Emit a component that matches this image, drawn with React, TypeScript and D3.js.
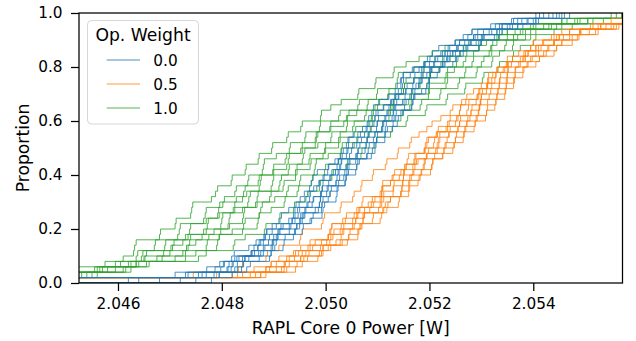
import React, { useRef, useEffect } from 'react';
import * as d3 from 'd3';

// power samples per run, stored as mW above BASE_W
const BASE_W = 2.04;

const weights = ['0.0', '0.5', '1.0'];
const colors = ['#1f77b4', '#ff7f0e', '#2ca02c'];

const runsW00 = [
  [4.9, 7.1, 7.87, 7.96, 8.19, 8.24, 8.52, 8.66, 8.81, 8.97, 8.97, 9.12, 9.15, 9.29, 9.43, 9.60, 9.69, 9.73, 9.68, 9.76, 9.84, 10.05, 10.18, 10.32, 10.43, 10.34, 10.40, 10.53, 10.71, 10.82, 10.89, 10.83, 10.92, 11.04, 11.22, 11.34, 11.49, 11.38, 11.44, 11.67, 11.92, 11.96, 12.06, 12.18, 12.50, 12.74, 12.82, 13.18, 13.58, 14.05],
  [6.4, 7.35, 7.71, 8.03, 8.29, 8.56, 8.69, 8.83, 8.75, 8.86, 9.05, 9.29, 9.46, 9.51, 9.41, 9.49, 9.59, 9.77, 9.87, 10.06, 9.97, 10.04, 10.24, 10.44, 10.40, 10.43, 10.45, 10.67, 10.80, 10.80, 10.95, 10.97, 11.11, 11.27, 11.35, 11.50, 11.40, 11.45, 11.46, 11.70, 11.89, 12.16, 12.25, 12.39, 12.49, 12.65, 12.82, 13.27, 13.62, 14.20],
  [5.1, 7.55, 7.98, 8.05, 8.33, 8.58, 8.62, 8.80, 8.84, 8.87, 9.14, 9.35, 9.38, 9.41, 9.69, 9.71, 9.66, 9.88, 9.83, 9.95, 10.19, 10.22, 10.25, 10.29, 10.41, 10.60, 10.62, 10.78, 10.75, 10.93, 10.95, 11.01, 11.12, 11.31, 11.33, 11.46, 11.48, 11.50, 11.63, 11.85, 11.90, 12.01, 12.22, 12.36, 12.58, 12.88, 12.93, 13.35, 13.70, 14.12],
  [7.2, 7.62, 8.10, 8.14, 8.40, 8.63, 8.70, 8.72, 9.08, 9.12, 9.18, 9.41, 9.47, 9.50, 9.76, 9.64, 9.90, 9.93, 9.95, 10.10, 10.12, 10.31, 10.29, 10.46, 10.50, 10.52, 10.80, 10.84, 10.86, 11.00, 11.02, 11.20, 11.22, 11.25, 11.41, 11.55, 11.57, 11.70, 11.72, 11.80, 12.10, 12.12, 12.30, 12.55, 12.68, 12.93, 13.04, 13.40, 13.78, 14.30],
  [6.8, 7.30, 8.12, 8.20, 8.44, 8.58, 8.83, 8.90, 8.92, 9.10, 9.33, 9.36, 9.52, 9.74, 9.62, 9.77, 9.92, 9.94, 10.08, 10.06, 10.27, 10.26, 10.30, 10.58, 10.62, 10.66, 10.69, 10.95, 10.98, 10.99, 11.16, 11.18, 11.35, 11.37, 11.40, 11.66, 11.68, 11.70, 11.86, 11.88, 12.00, 12.33, 12.35, 12.52, 12.80, 12.85, 13.20, 13.40, 13.90, 14.45],
  [4.7, 7.7, 8.18, 8.22, 8.25, 8.71, 8.80, 8.98, 9.05, 9.08, 9.30, 9.52, 9.55, 9.60, 9.88, 9.90, 9.91, 10.03, 10.20, 10.22, 10.24, 10.42, 10.45, 10.61, 10.63, 10.80, 10.78, 10.82, 11.10, 11.12, 11.14, 11.31, 11.33, 11.51, 11.53, 11.54, 11.80, 11.82, 11.84, 12.02, 12.08, 12.35, 12.40, 12.55, 12.78, 13.05, 13.15, 13.55, 13.88, 14.38],
  [6.2, 7.85, 8.25, 8.30, 8.52, 8.75, 8.95, 8.97, 9.00, 9.42, 9.44, 9.50, 9.58, 9.88, 9.86, 9.90, 10.05, 10.02, 10.20, 10.35, 10.37, 10.39, 10.58, 10.60, 10.78, 10.76, 10.92, 10.95, 11.08, 11.10, 11.28, 11.30, 11.31, 11.48, 11.65, 11.66, 11.80, 11.79, 11.95, 12.00, 12.25, 12.28, 12.45, 12.66, 12.80, 13.02, 13.30, 13.50, 14.00, 14.50],
  [7.5, 7.95, 8.30, 8.42, 8.45, 8.80, 9.02, 9.05, 9.08, 9.30, 9.50, 9.55, 9.60, 9.80, 9.93, 9.95, 10.09, 10.11, 10.25, 10.27, 10.44, 10.45, 10.47, 10.80, 10.82, 10.84, 10.98, 11.00, 11.15, 11.17, 11.35, 11.36, 11.52, 11.55, 11.70, 11.72, 11.74, 11.86, 12.02, 12.04, 12.30, 12.38, 12.50, 12.72, 12.98, 13.00, 13.35, 13.60, 14.05, 14.55],
  [5.0, 7.95, 8.38, 8.41, 8.72, 8.95, 8.98, 9.00, 9.38, 9.40, 9.45, 9.73, 9.76, 9.92, 9.93, 10.08, 10.05, 10.22, 10.37, 10.39, 10.41, 10.60, 10.62, 10.79, 10.95, 10.97, 10.99, 11.14, 11.30, 11.29, 11.32, 11.50, 11.65, 11.68, 11.70, 11.85, 11.99, 12.00, 12.02, 12.20, 12.28, 12.52, 12.58, 12.74, 12.95, 13.25, 13.30, 13.70, 14.05, 14.60],
  [7.8, 8.2, 8.48, 8.55, 8.95, 8.92, 9.18, 9.20, 9.22, 9.55, 9.57, 9.70, 9.95, 9.93, 9.98, 10.20, 10.22, 10.24, 10.40, 10.38, 10.60, 10.58, 10.65, 10.90, 10.88, 10.93, 11.15, 11.14, 11.19, 11.40, 11.38, 11.45, 11.68, 11.66, 11.72, 11.95, 11.93, 11.98, 12.15, 12.18, 12.45, 12.50, 12.65, 12.96, 13.00, 13.33, 13.40, 13.80, 14.10, 14.70],
];

const runsW05 = [
  [4.6, 7.9, 8.62, 9.05, 9.10, 9.48, 9.52, 9.70, 10.05, 10.08, 10.12, 10.38, 10.40, 10.66, 10.70, 10.72, 11.05, 11.08, 11.10, 11.30, 11.33, 11.55, 11.57, 11.60, 11.90, 11.92, 11.95, 12.15, 12.17, 12.38, 12.40, 12.60, 12.58, 12.62, 12.92, 12.95, 13.10, 13.12, 13.14, 13.30, 13.48, 13.50, 13.82, 13.95, 14.00, 14.40, 14.55, 15.10, 15.50, 16.20],
  [4.9, 8.2, 8.85, 8.95, 9.30, 9.38, 9.75, 9.80, 10.05, 10.10, 10.12, 10.52, 10.55, 10.60, 10.90, 10.88, 11.10, 11.25, 11.08, 11.28, 11.50, 11.52, 11.72, 11.74, 11.92, 11.95, 11.98, 12.15, 12.32, 12.35, 12.55, 12.58, 12.60, 12.76, 12.95, 12.97, 13.12, 13.14, 13.28, 13.30, 13.52, 13.60, 13.72, 13.95, 14.20, 14.35, 14.70, 15.15, 15.75, 16.35],
  [5.0, 8.4, 8.92, 8.95, 9.40, 9.42, 9.70, 10.02, 10.05, 10.28, 10.30, 10.33, 10.72, 10.75, 10.82, 11.05, 11.08, 11.10, 11.25, 11.42, 11.45, 11.68, 11.70, 11.72, 11.90, 12.08, 12.10, 12.13, 12.35, 12.50, 12.52, 12.72, 12.75, 12.90, 12.92, 13.10, 13.12, 13.26, 13.28, 13.45, 13.50, 13.75, 13.85, 14.10, 14.18, 14.50, 14.70, 15.30, 15.75, 16.45],
  [4.5, 8.3, 8.85, 9.22, 9.25, 9.62, 9.66, 9.92, 10.14, 10.16, 10.35, 10.58, 10.60, 10.64, 10.92, 10.95, 11.30, 11.12, 11.32, 11.50, 11.52, 11.55, 11.95, 11.78, 11.98, 12.15, 12.17, 12.20, 12.40, 12.58, 12.60, 12.80, 12.82, 12.98, 13.00, 13.02, 13.20, 13.35, 13.37, 13.50, 13.58, 13.82, 13.90, 14.05, 14.40, 14.45, 14.90, 15.25, 15.90, 16.50],
  [4.8, 8.55, 9.05, 9.20, 9.52, 9.55, 9.95, 10.08, 10.10, 10.35, 10.55, 10.58, 10.62, 10.85, 11.08, 11.12, 11.30, 11.31, 11.48, 11.50, 11.70, 11.72, 11.75, 11.95, 12.15, 12.18, 12.20, 12.38, 12.55, 12.58, 12.78, 12.80, 12.96, 12.98, 13.00, 13.18, 13.35, 13.36, 13.50, 13.52, 13.75, 13.85, 14.10, 14.15, 14.40, 14.58, 14.92, 15.40, 16.00, 16.60],
  [5.1, 8.65, 9.20, 9.22, 9.65, 9.68, 9.90, 10.28, 10.30, 10.32, 10.52, 10.72, 10.75, 11.02, 11.05, 11.08, 11.45, 11.47, 11.49, 11.65, 11.68, 11.90, 11.92, 11.94, 12.12, 12.32, 12.34, 12.37, 12.55, 12.72, 12.74, 12.95, 12.97, 12.99, 13.15, 13.32, 13.34, 13.50, 13.48, 13.65, 13.72, 13.98, 14.05, 14.30, 14.40, 14.75, 14.90, 15.55, 16.05, 16.70],
  [4.7, 8.75, 9.25, 9.30, 9.52, 9.95, 9.92, 10.20, 10.45, 10.47, 10.70, 10.72, 10.74, 11.15, 11.10, 11.25, 11.45, 11.47, 11.60, 11.62, 11.85, 11.88, 11.90, 12.10, 12.30, 12.28, 12.50, 12.52, 12.70, 12.72, 12.92, 12.94, 12.96, 13.12, 13.30, 13.32, 13.48, 13.50, 13.65, 13.66, 13.90, 13.95, 14.25, 14.28, 14.55, 14.70, 15.08, 15.50, 16.15, 16.80],
  [5.0, 8.75, 9.15, 9.55, 9.58, 9.95, 10.05, 10.42, 10.44, 10.62, 10.68, 10.90, 10.92, 11.20, 11.18, 11.25, 11.60, 11.45, 11.62, 11.82, 11.84, 12.05, 12.07, 12.26, 12.28, 12.48, 12.50, 12.66, 12.68, 12.90, 12.88, 13.10, 13.12, 13.30, 13.28, 13.46, 13.48, 13.65, 13.62, 13.80, 13.88, 14.12, 14.20, 14.45, 14.55, 14.88, 15.20, 15.60, 16.25, 16.90],
  [4.9, 8.85, 9.42, 9.45, 9.85, 9.88, 10.10, 10.32, 10.62, 10.64, 10.66, 11.05, 11.08, 11.12, 11.42, 11.40, 11.62, 11.60, 11.78, 11.80, 12.02, 12.04, 12.06, 12.25, 12.45, 12.47, 12.65, 12.67, 12.88, 12.86, 13.08, 13.10, 13.28, 13.26, 13.45, 13.47, 13.62, 13.64, 13.80, 13.82, 14.05, 14.12, 14.40, 14.45, 14.75, 14.85, 15.25, 15.65, 16.35, 17.00],
  [4.4, 7.45, 8.32, 8.40, 8.85, 8.88, 9.10, 9.52, 9.50, 9.55, 9.92, 9.95, 9.98, 10.30, 10.28, 10.52, 10.55, 10.68, 10.70, 10.90, 10.92, 11.15, 11.18, 11.38, 11.40, 11.62, 11.65, 11.80, 11.95, 12.05, 12.22, 12.40, 12.45, 12.70, 12.72, 12.85, 13.00, 13.20, 13.22, 13.42, 13.50, 13.80, 13.90, 14.05, 14.40, 14.50, 14.90, 15.30, 15.90, 16.50],
];

const runsW10 = [
  [4.2, 4.9, 5.2, 5.75, 6.10, 6.30, 6.32, 6.35, 6.80, 6.82, 7.10, 7.12, 7.40, 7.42, 7.44, 7.80, 7.88, 7.92, 8.18, 8.20, 8.45, 8.47, 8.70, 8.72, 8.96, 8.98, 9.25, 9.28, 9.52, 9.55, 9.90, 9.92, 10.10, 10.30, 10.62, 10.64, 10.95, 10.97, 11.30, 11.32, 11.55, 11.80, 12.05, 12.30, 12.58, 12.85, 13.40, 13.70, 14.55, 15.50],
  [4.4, 5.0, 5.6, 5.95, 6.35, 6.38, 6.70, 6.72, 7.15, 7.18, 7.20, 7.65, 7.68, 7.70, 8.02, 8.05, 8.28, 8.25, 8.50, 8.52, 8.78, 8.80, 8.82, 9.05, 9.30, 9.32, 9.60, 9.62, 9.88, 9.90, 10.25, 10.28, 10.62, 10.65, 10.98, 11.00, 11.35, 11.38, 11.40, 11.70, 11.90, 12.10, 12.30, 12.70, 12.75, 13.05, 13.50, 13.95, 14.55, 15.60],
  [4.6, 5.2, 5.7, 6.05, 6.52, 6.55, 6.90, 6.92, 7.35, 7.38, 7.40, 7.70, 7.92, 7.94, 7.96, 8.40, 8.42, 8.45, 8.72, 8.70, 8.98, 9.00, 9.22, 9.25, 9.52, 9.55, 9.80, 9.82, 10.08, 10.10, 10.42, 10.45, 10.80, 10.82, 11.20, 11.22, 11.55, 11.52, 11.88, 11.90, 12.22, 12.25, 12.45, 12.65, 12.90, 13.35, 13.50, 14.05, 14.65, 15.70],
  [4.3, 5.15, 5.65, 6.25, 6.45, 6.48, 7.05, 7.08, 7.30, 7.70, 7.72, 7.74, 7.95, 8.22, 8.25, 8.28, 8.48, 8.72, 8.74, 8.76, 9.00, 9.25, 9.28, 9.30, 9.55, 9.80, 9.82, 9.85, 10.10, 10.35, 10.40, 10.60, 11.00, 11.02, 11.20, 11.50, 11.52, 11.70, 12.05, 12.02, 12.25, 12.40, 12.60, 12.95, 13.00, 13.30, 13.75, 14.00, 14.85, 15.85],
  [4.7, 5.0, 5.55, 6.35, 6.50, 7.00, 7.02, 7.25, 7.62, 7.65, 7.98, 8.00, 8.02, 8.25, 8.50, 8.52, 8.55, 8.95, 8.98, 9.00, 9.28, 9.30, 9.55, 9.57, 9.60, 9.85, 10.10, 10.12, 10.40, 10.42, 10.75, 10.78, 10.95, 11.35, 11.32, 11.50, 11.85, 11.82, 12.00, 12.20, 12.52, 12.55, 12.72, 12.95, 13.10, 13.50, 13.65, 14.20, 14.80, 15.95],
  [4.5, 5.3, 5.95, 6.20, 6.85, 6.88, 7.35, 7.38, 7.40, 7.85, 8.12, 8.14, 8.16, 8.40, 8.65, 8.68, 8.70, 9.10, 9.12, 9.15, 9.45, 9.42, 9.70, 9.68, 9.98, 10.00, 10.25, 10.28, 10.55, 10.52, 10.90, 10.92, 11.30, 11.28, 11.65, 11.68, 12.00, 11.95, 12.35, 12.32, 12.65, 12.70, 12.85, 13.22, 13.20, 13.62, 13.80, 14.30, 14.90, 16.10],
  [4.8, 5.2, 5.8, 6.55, 6.75, 7.30, 7.32, 7.50, 7.95, 7.98, 8.15, 8.40, 8.42, 8.44, 8.68, 8.95, 8.92, 9.18, 9.20, 9.45, 9.42, 9.72, 9.70, 9.95, 10.00, 10.28, 10.25, 10.55, 10.58, 10.85, 10.88, 11.25, 11.22, 11.62, 11.60, 11.98, 12.00, 12.30, 12.35, 12.48, 12.85, 12.82, 13.15, 13.18, 13.30, 13.70, 13.85, 14.35, 15.05, 16.20],
  [4.9, 5.4, 6.10, 6.35, 7.10, 7.25, 7.70, 7.72, 7.75, 8.42, 8.20, 8.45, 8.75, 8.72, 8.78, 9.02, 9.28, 9.25, 9.50, 9.52, 9.78, 9.80, 9.82, 10.05, 10.32, 10.30, 10.60, 10.62, 10.90, 10.88, 11.25, 11.22, 11.65, 11.62, 12.00, 11.98, 12.35, 12.32, 12.70, 12.68, 13.00, 13.05, 13.20, 13.48, 13.45, 13.85, 13.95, 14.45, 15.05, 16.30],
  [5.0, 5.5, 6.15, 6.40, 7.30, 7.50, 7.90, 7.92, 7.95, 8.40, 8.70, 8.68, 8.72, 8.95, 9.22, 9.20, 9.48, 9.45, 9.72, 9.75, 9.98, 10.00, 10.25, 10.28, 10.30, 10.55, 10.82, 10.80, 11.10, 11.08, 11.45, 11.48, 11.85, 11.82, 12.20, 12.22, 12.55, 12.58, 12.90, 12.92, 13.20, 13.22, 13.35, 13.62, 13.60, 13.95, 14.05, 14.55, 15.15, 16.40],
  [5.1, 5.6, 6.25, 6.60, 7.55, 7.70, 8.22, 8.25, 8.45, 8.85, 8.82, 9.12, 9.10, 9.38, 9.40, 9.65, 9.62, 9.90, 9.88, 10.15, 10.12, 10.42, 10.40, 10.70, 10.68, 10.98, 10.95, 11.28, 11.25, 11.58, 11.55, 11.95, 11.92, 12.35, 12.32, 12.70, 12.68, 13.05, 13.02, 13.35, 13.32, 13.60, 13.62, 13.75, 14.00, 14.05, 14.40, 14.75, 15.35, 16.50],
];

const xTicks = [2.046, 2.048, 2.05, 2.052, 2.054];
const xTickLabels = ['2.046', '2.048', '2.050', '2.052', '2.054'];
const yTicks = [0, 0.2, 0.4, 0.6, 0.8, 1.0];
const yTickLabels = ['0.0', '0.2', '0.4', '0.6', '0.8', '1.0'];

const width = 636;
const height = 341;
const margin = { left: 79, right: 13.5, top: 13, bottom: 58 };
const FONT = 'DejaVu Sans, sans-serif';

const EcdfChart = () => {
  const svgRef = useRef<SVGSVGElement>(null);

  useEffect(() => {
    const svg = d3.select(svgRef.current);
    svg.selectAll('*').remove();

    const x = d3.scaleLinear()
      .domain([2.045249, 2.055719])
      .range([margin.left, width - margin.right]);
    const y = d3.scaleLinear()
      .domain([0, 1])
      .range([height - margin.bottom, margin.top]);

    svg.append('defs').append('clipPath').attr('id', 'plot-clip')
      .append('rect')
      .attr('x', margin.left).attr('y', margin.top - 1)
      .attr('width', width - margin.left - margin.right)
      .attr('height', height - margin.top - margin.bottom + 1);

    const line = d3.line<[number, number]>()
      .x(d => x(d[0]))
      .y(d => y(d[1]))
      .curve(d3.curveStepAfter);

    const ecdf = (run: number[]): [number, number][] => {
      const v = run.map(m => BASE_W + m / 1000).sort(d3.ascending);
      const n = v.length;
      return [[x.domain()[0] - 0.01, 0], ...v.map((d, i) => [d, (i + 1) / n] as [number, number])];
    };

    const groups = [runsW00, runsW05, runsW10];
    const plot = svg.append('g').attr('clip-path', 'url(#plot-clip)');

    // last hue drawn first, like seaborn
    [2, 1, 0].forEach(gi => {
      plot.append('g')
        .selectAll('path')
        .data(groups[gi])
        .join('path')
        .attr('fill', 'none')
        .attr('stroke', colors[gi])
        .attr('stroke-width', 1)
        .attr('stroke-opacity', 0.8)
        .attr('d', run => line(ecdf(run)));
    });

    // axes
    const xAxis = svg.append('g')
      .attr('transform', `translate(0,${height - margin.bottom})`)
      .call(d3.axisBottom(x)
        .tickValues(xTicks)
        .tickFormat((d, i) => xTickLabels[i])
        .tickSize(8)
        .tickPadding(7));
    const yAxis = svg.append('g')
      .attr('transform', `translate(${margin.left},0)`)
      .call(d3.axisLeft(y)
        .tickValues(yTicks)
        .tickFormat((d, i) => yTickLabels[i])
        .tickSize(8)
        .tickPadding(8.5));
    [xAxis, yAxis].forEach(ax => {
      ax.select('.domain').remove();
      ax.selectAll('line').attr('stroke', '#000').attr('stroke-width', 1.25);
      ax.selectAll('text')
        .attr('fill', '#000')
        .style('font-family', FONT)
        .style('font-size', '15.3px');
    });

    svg.append('rect')
      .attr('x', margin.left).attr('y', margin.top)
      .attr('width', width - margin.left - margin.right)
      .attr('height', height - margin.top - margin.bottom)
      .attr('fill', 'none')
      .attr('stroke', '#000')
      .attr('stroke-width', 1.25);

    svg.append('text')
      .attr('x', (margin.left + width - margin.right) / 2)
      .attr('y', 334)
      .attr('text-anchor', 'middle')
      .style('font-family', FONT)
      .style('font-size', '17.2px')
      .text('RAPL Core 0 Power [W]');

    svg.append('text')
      .attr('transform', `translate(28.5,${(margin.top + height - margin.bottom) / 2}) rotate(-90)`)
      .attr('text-anchor', 'middle')
      .style('font-family', FONT)
      .style('font-size', '17.2px')
      .text('Proportion');

    // legend
    const legend = svg.append('g');
    legend.append('rect')
      .attr('x', 87.5).attr('y', 20.5)
      .attr('width', 111).attr('height', 103.5)
      .attr('rx', 4)
      .attr('fill', '#fff').attr('fill-opacity', 0.8)
      .attr('stroke', '#cccccc').attr('stroke-opacity', 0.8);
    legend.append('text')
      .attr('x', 143).attr('y', 41)
      .attr('text-anchor', 'middle')
      .style('font-family', FONT)
      .style('font-size', '17.2px')
      .text('Op. Weight');
    weights.forEach((w, i) => {
      const ly = 60 + i * 24;
      legend.append('line')
        .attr('x1', 106.7).attr('x2', 140)
        .attr('y1', ly).attr('y2', ly)
        .attr('stroke', colors[i])
        .attr('stroke-opacity', 0.8)
        .attr('stroke-width', 1.2);
      legend.append('text')
        .attr('x', 153.3).attr('y', ly + 5.5)
        .style('font-family', FONT)
        .style('font-size', '15.3px')
        .text(w);
    });
  }, []);

  return (
    <svg
      ref={svgRef}
      width={width}
      height={height}
      style={{ position: 'absolute', left: 0, top: 0, background: '#fff' }}
    />
  );
};

export default function App() {
  return <EcdfChart />;
}
